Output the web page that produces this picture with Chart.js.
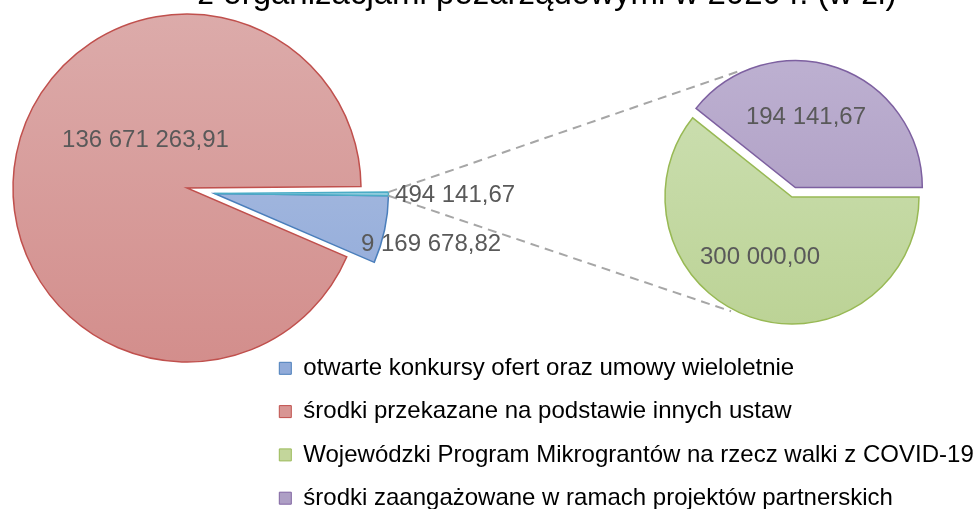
<!DOCTYPE html>
<html lang="pl"><head><meta charset="utf-8">
<title>Pie of pie</title>
<script src="https://cdn.jsdelivr.net/npm/chart.js@4.4.1/dist/chart.umd.min.js"></script>
<style>
html,body{margin:0;padding:0;background:#fff;width:974px;height:509px;overflow:hidden}
#wrap{position:relative;width:974px;height:509px;overflow:hidden;background:#fff}
#wrap canvas{position:absolute}
</style></head><body>
<div id="wrap">
<canvas id="mainPie"></canvas>
<canvas id="subPie"></canvas>
<canvas id="legendBox"></canvas>
</div>
<script>
// ---------- data ----------
const titleText = 'z organizacjami pozarządowymi w 2020 r. (w zł)';
const mainCategories = ['otwarte konkursy ofert oraz umowy wieloletnie', 'środki przekazane na podstawie innych ustaw', 'Pozostałe'];
const mainValues = [9169678.82, 136671263.91, 494141.67];
const subCategories = ['Wojewódzki Program Mikrograntów na rzecz walki z COVID-19', 'środki zaangażowane w ramach projektów partnerskich'];
const subValues = [300000.00, 194141.67];
const legendCategories = ['otwarte konkursy ofert oraz umowy wieloletnie', 'środki przekazane na podstawie innych ustaw', 'Wojewódzki Program Mikrograntów na rzecz walki z COVID-19', 'środki zaangażowane w ramach projektów partnerskich'];
const legendValues = [mainValues[0], mainValues[1], subValues[0], subValues[1]];

// ---------- styles ----------
const FONT = '"Liberation Sans", Arial, sans-serif';
const mainFillTop = ['#b2c3e3', '#dcabaa', '#a8d6e4'];
const mainFillBottom = ['#8da7d8', '#d38e8c', '#7cc2d6'];
const mainBorder = ['#4a7ebb', '#c0504d', '#4bacc6'];
const subFillTop = ['#cde0b3', '#bcafd0'];
const subFillBottom = ['#bcd396', '#a795be'];
const subBorder = ['#98b954', '#7d60a0'];
const legendFill = ['#91abd9', '#d89694', '#c3d69b', '#ae9fc5'];
const legendBorder = ['#4a7ebb', '#c0504d', '#9bbb59', '#8064a2'];
const boxes = {
  main: {left: 0, top: 0, width: 974, height: 509},
  sub: {left: 632, top: 47, width: 320, height: 300},
  legend: {left: 260, top: 337, width: 714, height: 172}
};

function place(id, b) {
  const c = document.getElementById(id);
  c.width = b.width; c.height = b.height;
  c.style.left = b.left + 'px'; c.style.top = b.top + 'px';
  c.style.width = b.width + 'px'; c.style.height = b.height + 'px';
  return c;
}
function fmtPL(v) {
  const parts = v.toFixed(2).split('.');
  return parts[0].replace(/\B(?=(\d{3})+(?!\d))/g, ' ') + ',' + parts[1];
}
function gradientFill(tops, bottoms) {
  return (c) => {
    const ch = c.chart, a = ch.chartArea, i = c.dataIndex;
    if (!a || i === undefined) return bottoms[0];
    const g = ch.ctx.createLinearGradient(0, a.top, 0, a.bottom);
    g.addColorStop(0, tops[i]); g.addColorStop(1, bottoms[i]);
    return g;
  };
}

// ---------- plugins ----------
const explodePlugin = {
  id: 'explode',
  afterDatasetUpdate(chart, args, opts) {
    if (!opts || !opts.distance) return;
    const arcs = chart.getDatasetMeta(args.index).data;
    const group = opts.indices.map(i => arcs[i]);
    let sx = 0, sy = 0;
    group.forEach(a => {
      const m = (a.startAngle + a.endAngle) / 2, w = a.endAngle - a.startAngle;
      sx += w * Math.cos(m); sy += w * Math.sin(m);
    });
    const ang = Math.atan2(sy, sx);
    group.forEach(a => { a.x += Math.cos(ang) * opts.distance; a.y += Math.sin(ang) * opts.distance; });
  }
};
const valueLabelsPlugin = {
  id: 'valueLabels',
  afterDatasetsDraw(chart, args, opts) {
    const meta = chart.getDatasetMeta(0);
    const ctx = chart.ctx;
    const values = chart.data.datasets[0].data;
    ctx.save();
    ctx.font = opts.size + 'px ' + FONT;
    ctx.fillStyle = opts.color;
    ctx.textBaseline = 'middle';
    meta.data.forEach((arc, i) => {
      const p = opts.places[i];
      if (!p) return;
      const a = p.angle * Math.PI / 180, r = arc.outerRadius * p.dist;
      ctx.textAlign = p.align || 'center';
      ctx.fillText(fmtPL(values[i]), arc.x + Math.cos(a) * r, arc.y + Math.sin(a) * r);
    });
    ctx.restore();
  }
};
let subChart = null;
const connectorPlugin = {
  id: 'connector',
  afterDatasetsDraw(chart, args, opts) {
    if (!subChart) return;
    const src = chart.getDatasetMeta(0).data[opts.fromIndex];
    const tm = subChart.getDatasetMeta(0).data[0];
    const b = boxes.sub;
    const cx = b.left + tm.x, cy = b.top + tm.y, r = tm.outerRadius;
    const r0 = src.outerRadius;
    const ctx = chart.ctx;
    ctx.save();
    ctx.setLineDash([9, 6]);
    ctx.strokeStyle = opts.color; ctx.lineWidth = opts.width;
    ctx.beginPath();
    ctx.moveTo(src.x + r0 * Math.cos(src.startAngle), src.y + r0 * Math.sin(src.startAngle));
    ctx.lineTo(cx + opts.topEnd[0] * r, cy + opts.topEnd[1] * r);
    ctx.moveTo(src.x + r0 * Math.cos(src.endAngle), src.y + r0 * Math.sin(src.endAngle));
    ctx.lineTo(cx + opts.bottomEnd[0] * r, cy + opts.bottomEnd[1] * r);
    ctx.stroke();
    ctx.restore();
  }
};
const titlePlugin = {
  id: 'topTitle',
  afterDraw(chart, args, opts) {
    const ctx = chart.ctx;
    ctx.save();
    ctx.font = opts.size + 'px ' + FONT;
    ctx.fillStyle = '#000';
    ctx.textAlign = 'center';
    ctx.textBaseline = 'alphabetic';
    ctx.fillText(titleText, opts.x, opts.y);
    ctx.restore();
  }
};

// ---------- secondary pie ----------
subChart = new Chart(place('subPie', boxes.sub), {
  type: 'pie',
  data: {labels: subCategories, datasets: [{
    data: subValues,
    backgroundColor: gradientFill(subFillTop, subFillBottom),
    borderColor: subBorder, borderWidth: 1.5, borderJoinStyle: 'miter'
  }]},
  options: {
    responsive: false, animation: false, events: [],
    radius: 127, rotation: 90,
    layout: {padding: {left: 33, right: 33, top: 23, bottom: 23}},
    plugins: {
      legend: {display: false}, tooltip: {enabled: false},
      explode: {distance: 10, indices: [1]},
      valueLabels: {size: 24, color: '#595959', places: [{angle: 118.1, dist: 0.535}, {angle: 278.6, dist: 0.562}]}
    }
  },
  plugins: [explodePlugin, valueLabelsPlugin]
});

// ---------- main pie ----------
new Chart(place('mainPie', boxes.main), {
  type: 'pie',
  data: {labels: mainCategories, datasets: [{
    data: mainValues,
    backgroundColor: gradientFill(mainFillTop, mainFillBottom),
    borderColor: mainBorder, borderWidth: 1.5, borderJoinStyle: 'miter'
  }]},
  options: {
    responsive: false, animation: false, events: [],
    radius: 174, rotation: 90.74,
    layout: {padding: {left: 13, right: 613, top: 14, bottom: 147}},
    plugins: {
      legend: {display: false}, tooltip: {enabled: false},
      explode: {distance: 28, indices: [0, 2]},
      connector: {fromIndex: 2, topEnd: [-0.39, -1.0], bottomEnd: [-0.48, 0.9], color: '#a6a6a6', width: 2},
      valueLabels: {size: 24, color: '#595959', places: [{angle: 13.1, dist: 1.278}, {angle: 228.9, dist: 0.363}, {angle: 0.5, dist: 1.038, align: 'left'}]},
      topTitle: {size: 33, x: 547, y: 4}
    }
  },
  plugins: [explodePlugin, connectorPlugin, valueLabelsPlugin, titlePlugin]
});

// ---------- legend ----------
new Chart(place('legendBox', boxes.legend), {
  type: 'pie',
  data: {labels: legendCategories, datasets: [{data: legendValues, backgroundColor: legendFill, borderWidth: 0}]},
  options: {
    responsive: false, animation: false, events: [],
    radius: 0,
    plugins: {
      tooltip: {enabled: false},
      legend: {
        display: true, position: 'top', align: 'start', maxHeight: 400,
        labels: {
          font: {family: FONT, size: 24}, color: '#000',
          boxWidth: 12, boxHeight: 12, padding: 19.3,
          generateLabels: () => legendCategories.map((t, i) => ({
            text: t, fillStyle: legendFill[i], strokeStyle: legendBorder[i],
            lineWidth: 1, hidden: false, index: i
          }))
        }
      }
    }
  }
});
</script>
</body></html>
